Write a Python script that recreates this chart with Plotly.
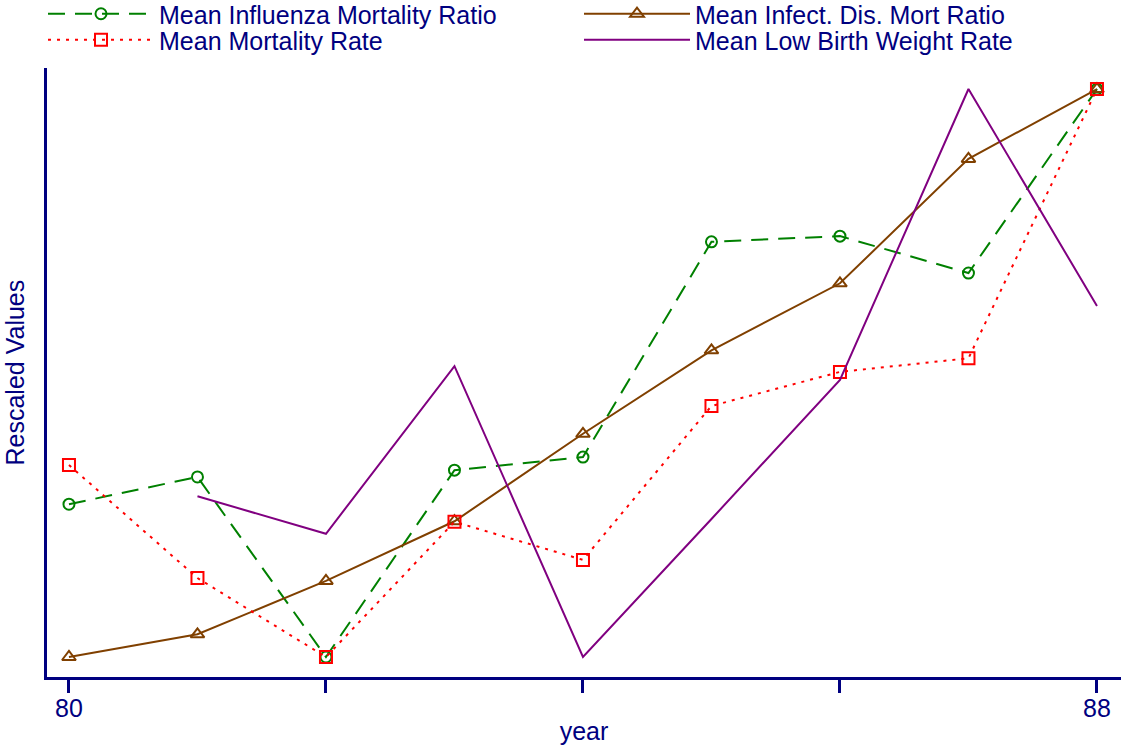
import plotly.graph_objects as go

years = [80, 81, 82, 83, 84, 85, 86, 87, 88]
influenza = [0.269, 0.317, 0.0, 0.329, 0.352, 0.731, 0.741, 0.676, 1.0]
mort_rate = [0.338, 0.139, 0.0, 0.238, 0.171, 0.442, 0.502, 0.526, 1.0]
infect = [0.0, 0.040, 0.134, 0.239, 0.393, 0.540, 0.658, 0.877, 1.0]
lbw = [None, 0.283, 0.217, 0.512, 0.0, 0.243, 0.488, 1.0, 0.618]

tick_vals = [80, 82, 84, 86, 88]
tick_text = ["80", "", "", "", "88"]

NAVY = "#000080"
FONT = "Liberation Sans, Arial, sans-serif"
W, H = 1121, 745

fig = go.Figure()
fig.add_trace(go.Scatter(
    x=years, y=influenza, name="Mean Influenza Mortality Ratio", mode="lines+markers",
    line=dict(color="#008000", width=2, dash="17px,10px"),
    marker=dict(symbol="circle-open", size=11, color="#008000", line=dict(width=2)),
    legend="legend"))
fig.add_trace(go.Scatter(
    x=years, y=infect, name="Mean Infect. Dis. Mort Ratio", mode="lines+markers",
    line=dict(color="#804000", width=2),
    marker=dict(symbol="triangle-up-open", size=12, color="#804000", line=dict(width=2)),
    legend="legend2"))
fig.add_trace(go.Scatter(
    x=years, y=mort_rate, name="Mean Mortality Rate", mode="lines+markers",
    line=dict(color="#FF0000", width=2, dash="3px,6px"),
    marker=dict(symbol="square-open", size=12, color="#FF0000", line=dict(width=2)),
    legend="legend3"))
fig.add_trace(go.Scatter(
    x=years, y=lbw, name="Mean Low Birth Weight Rate", mode="lines",
    line=dict(color="#800080", width=2),
    connectgaps=False,
    legend="legend4"))


def leg(xpx, ypx):
    return dict(
        orientation="v", xref="container", yref="container",
        xanchor="left", yanchor="middle", x=xpx / W, y=1 - ypx / H,
        font=dict(family=FONT, size=25, color=NAVY),
        itemwidth=106,
        bgcolor="rgba(0,0,0,0)", borderwidth=0, itemclick=False,
    )


fig.update_layout(
    width=W, height=H,
    paper_bgcolor="white", plot_bgcolor="white",
    margin=dict(l=47, r=0, t=68, b=68, autoexpand=False),
    font=dict(family=FONT, size=25, color=NAVY),
    showlegend=True,
    legend=leg(43, 14),
    legend2=leg(579, 14),
    legend3=leg(43, 40),
    legend4=leg(579, 40),
    xaxis=dict(
        range=[79.829, 88.187], tickvals=tick_vals, ticktext=tick_text,
        showgrid=False, zeroline=False, showline=True, linecolor=NAVY, linewidth=2.5,
        ticks="outside", ticklen=13, tickwidth=2.5, tickcolor=NAVY, automargin=False,
        ticklabelstandoff=-6,
        tickfont=dict(family=FONT, size=25, color=NAVY),
        title=dict(text="year", font=dict(family=FONT, size=25, color=NAVY), standoff=2),
    ),
    yaxis=dict(
        range=[-0.0352, 1.037], showgrid=False, zeroline=False, automargin=False,
        showline=True, linecolor=NAVY, linewidth=2.5, showticklabels=False, ticks="",
    ),
    annotations=[dict(
        text="Rescaled Values", textangle=-90, showarrow=False,
        xref="paper", yref="paper", x=-33 / (W - 47), y=0.5,
        xanchor="center", yanchor="middle",
        font=dict(family=FONT, size=25, color=NAVY),
    )],
)

fig.write_html(
    "out.html",
    config={"displayModeBar": False},
    post_script="document.body.style.margin='0';document.body.style.padding='0';",
)
